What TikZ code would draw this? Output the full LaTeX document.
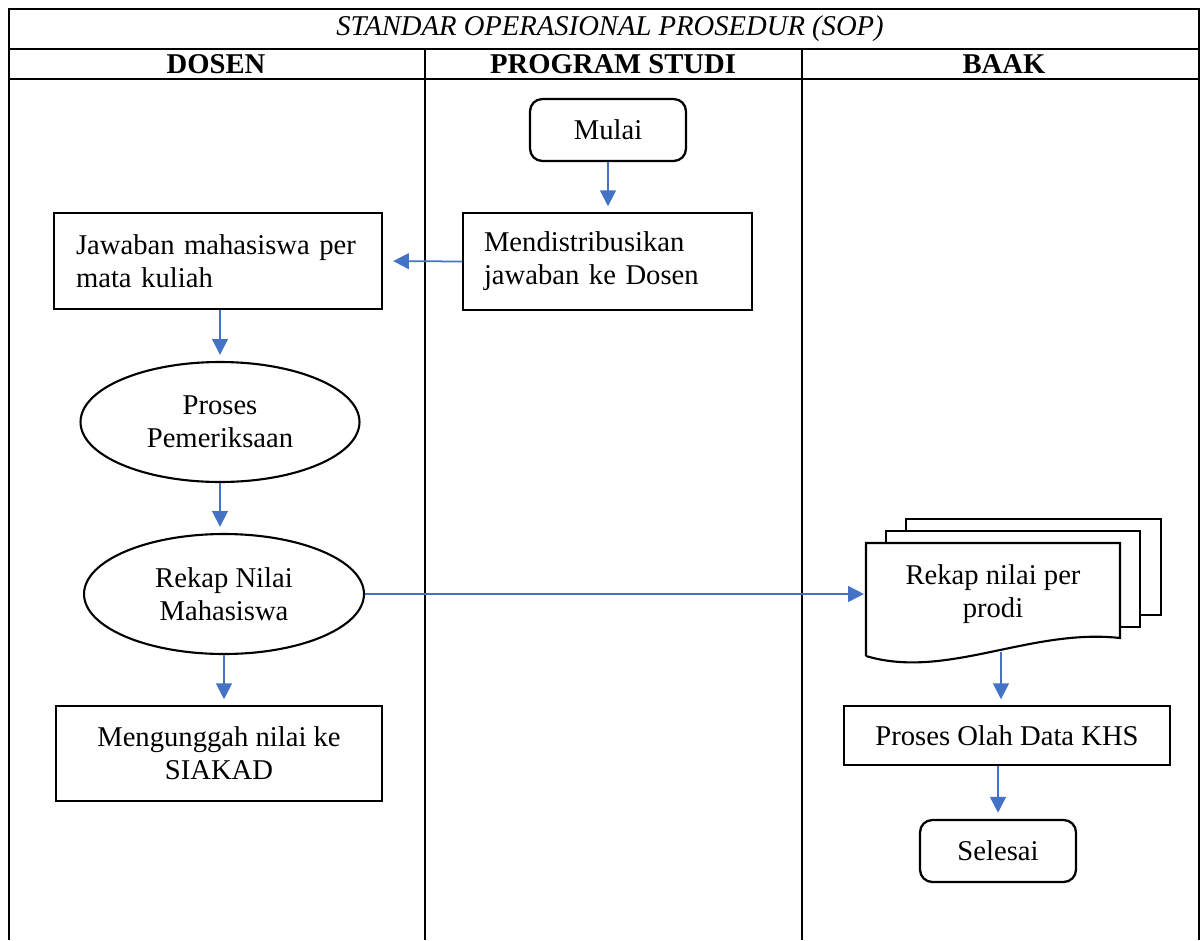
\documentclass[tikz,border=0pt]{standalone}
\usepackage{fontspec}
\setmainfont{Liberation Serif}
\usetikzlibrary{arrows.meta,shapes.geometric}

\begin{document}
\begin{tikzpicture}[x=0.02cm,y=-0.02cm]
    % Colors and styles
    \definecolor{flowblue}{RGB}{68,114,196}
    \tikzstyle{every node}=[font=\fontsize{16.3}{18.7}\selectfont]
    \tikzstyle{lane}=[black, line width=1.1pt]
    \tikzstyle{terminal}=[draw, rounded corners=7pt, line width=1.3pt, minimum width=3.12cm, minimum height=1.24cm]
    \tikzstyle{process}=[draw, line width=0.7pt, align=left, inner ysep=0pt]
    \tikzstyle{oval}=[draw, ellipse, line width=1.2pt, inner sep=0pt, minimum width=5.58cm, minimum height=2.4cm, align=center]
    \tikzstyle{flow}=[flowblue, line width=1pt, -{Triangle[length=9pt,width=9pt]}, shorten >=3.5pt]

    \useasboundingbox (0,0) rectangle (1200,940);

    % Table frame and swimlanes
    \draw[lane] (9,940) -- (9,9) -- (1199,9) -- (1199,940);
    \draw[lane] (9,49) -- (1199,49);
    \draw[lane] (9,79) -- (1199,79);
    \draw[lane] (425,49) -- (425,940);
    \draw[lane] (802,49) -- (802,940);

    % Header
    \node (title) at (610,29) {\textit{STANDAR OPERASIONAL PROSEDUR (SOP)}};
    \node (dosen) at (216,64) {\textbf{DOSEN}};
    \node (prodi) at (613,64) {\textbf{PROGRAM STUDI}};
    \node (baak) at (1004,64) {\textbf{BAAK}};

    % Program studi
    \node[terminal] (mulai) at (608,130) {Mulai};
    \node[process, inner xsep=0.42cm, text width=4.94cm, minimum height=1.94cm] (distribusi) at (607.5,261.5) {Mendistribusikan\\jawaban ke Dosen};

    % Dosen
    \node[process, inner xsep=0.44cm, text width=5.68cm, minimum height=1.92cm] (jawaban) at (218,261) {Jawaban mahasiswa per\\mata kuliah};
    \node[oval] (periksa) at (220,422) {Proses\\Pemeriksaan};
    \node[oval, minimum width=5.6cm] (rekapnilai) at (224,594) {Rekap Nilai\\Mahasiswa};
    \node[process, align=center, inner xsep=0pt, minimum width=6.52cm, minimum height=1.9cm] (unggah) at (219,753.5) {Mengunggah nilai ke\\SIAKAD};

    % BAAK: stacked documents
    \draw[line width=1.2pt, fill=white] (906,519) rectangle (1161,615);
    \draw[line width=1.2pt, fill=white] (886,531) rectangle (1140,627);
    \draw[line width=1.2pt, fill=white] (866,656) -- (866,543) -- (1120,543) -- (1120,638)
        .. controls (1030,628) and (946,680) .. (866,656);
    \node[align=center, inner sep=0pt, minimum width=5.08cm, minimum height=2.04cm] (rekapprodi) at (993,594) {Rekap nilai per\\prodi};
    \coordinate (docbottom) at (1001,652);
    \node[process, align=center, inner xsep=0pt, minimum width=6.52cm, minimum height=1.18cm] (olahdata) at (1007,735.5) {Proses Olah Data KHS};
    \node[terminal] (selesai) at (998,851) {Selesai};

    % Connectors
    \draw[flow] (mulai.south) -- (mulai.south |- distribusi.north);
    \draw[flow, shorten >=6pt] (distribusi.west) -- (jawaban.east);
    \draw[flow] (jawaban.south -| periksa.south) -- (periksa.north);
    \draw[flow] (periksa.south) -- (rekapnilai.north -| periksa.south);
    \draw[flow] (rekapnilai.south) -- (rekapnilai.south |- unggah.north);
    \draw[flow, shorten >=1pt] (rekapnilai.east) -- (rekapprodi.west);
    \draw[flow] (docbottom) -- (docbottom |- olahdata.north);
    \draw[flow] (selesai.north |- olahdata.south) -- (selesai.north);

\end{tikzpicture}
\end{document}
